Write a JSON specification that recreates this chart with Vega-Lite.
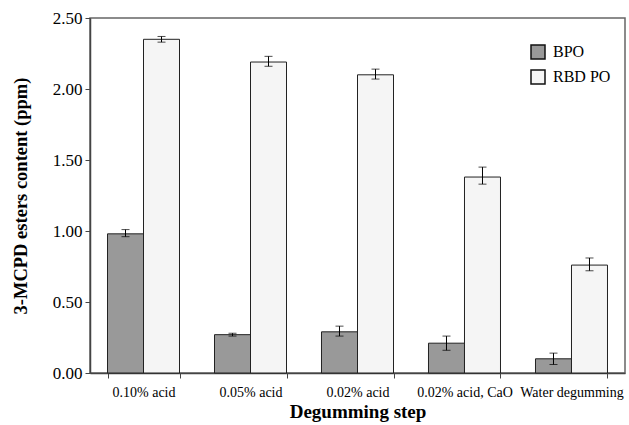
{
  "$schema": "https://vega.github.io/schema/vega-lite/v6.json",
  "width": 535,
  "height": 355,
  "autosize": "none",
  "padding": {"left": 90, "top": 18, "right": 4, "bottom": 52},
  "background": "white",
  "config": {
    "view": {"stroke": "#666666", "strokeWidth": 1.5},
    "font": "Liberation Serif, Times New Roman, serif"
  },
  "data": {
    "values": [
      {"step": "0.10% acid", "oil": "BPO", "value": 0.98, "lo": 0.96, "hi": 1.01},
      {"step": "0.10% acid", "oil": "RBD PO", "value": 2.35, "lo": 2.33, "hi": 2.37},
      {"step": "0.05% acid", "oil": "BPO", "value": 0.27, "lo": 0.26, "hi": 0.28},
      {"step": "0.05% acid", "oil": "RBD PO", "value": 2.19, "lo": 2.16, "hi": 2.23},
      {"step": "0.02% acid", "oil": "BPO", "value": 0.29, "lo": 0.26, "hi": 0.33},
      {"step": "0.02% acid", "oil": "RBD PO", "value": 2.10, "lo": 2.07, "hi": 2.14},
      {"step": "0.02% acid, CaO", "oil": "BPO", "value": 0.21, "lo": 0.16, "hi": 0.26},
      {"step": "0.02% acid, CaO", "oil": "RBD PO", "value": 1.38, "lo": 1.33, "hi": 1.45},
      {"step": "Water degumming", "oil": "BPO", "value": 0.10, "lo": 0.06, "hi": 0.14},
      {"step": "Water degumming", "oil": "RBD PO", "value": 0.76, "lo": 0.72, "hi": 0.81}
    ]
  },
  "encoding": {
    "x": {
      "field": "step",
      "type": "nominal",
      "sort": null,
      "scale": {"paddingInner": 0.327, "paddingOuter": 0.1636},
      "axis": {
        "title": "Degumming step",
        "titleFont": "Liberation Serif, Times New Roman, serif",
        "titleFontSize": 19,
        "titleFontWeight": "bold",
        "titleColor": "black",
        "titlePadding": 3,
        "labelAngle": 0,
        "labelFont": "Liberation Serif, Times New Roman, serif",
        "labelFontSize": 14,
        "labelColor": "black",
        "labelPadding": 7,
        "tickBand": "extent",
        "tickSize": 5,
        "tickColor": "#444444",
        "domainColor": "#444444",
        "domainWidth": 1.5
      }
    },
    "xOffset": {
      "field": "oil",
      "type": "nominal",
      "sort": ["BPO", "RBD PO"],
      "scale": {"paddingInner": 0, "paddingOuter": 0}
    }
  },
  "layer": [
    {
      "mark": {"type": "bar", "stroke": "#222222", "strokeWidth": 1},
      "encoding": {
        "y": {
          "field": "value",
          "type": "quantitative",
          "scale": {"domain": [0, 2.5], "nice": false},
          "axis": {
            "title": "3-MCPD esters content (ppm)",
            "titleFont": "Liberation Serif, Times New Roman, serif",
            "titleFontSize": 18.5,
            "titleFontWeight": "bold",
            "titleColor": "black",
            "titlePadding": 22,
            "values": [0, 0.5, 1, 1.5, 2, 2.5],
            "format": ".2f",
            "grid": false,
            "labelFont": "Liberation Serif, Times New Roman, serif",
            "labelFontSize": 17,
            "labelColor": "black",
            "labelPadding": 3,
            "tickSize": 5,
            "tickColor": "#444444",
            "domainColor": "#444444",
            "domainWidth": 1.5
          }
        },
        "color": {
          "field": "oil",
          "type": "nominal",
          "scale": {"domain": ["BPO", "RBD PO"], "range": ["#999999", "#f5f5f5"]},
          "legend": {
            "title": null,
            "orient": "none",
            "legendX": 440,
            "legendY": 26,
            "symbolType": "square",
            "symbolSize": 196,
            "symbolStrokeColor": "#111111",
            "symbolStrokeWidth": 1.5,
            "symbolOpacity": 1,
            "labelFont": "Liberation Serif, Times New Roman, serif",
            "labelFontSize": 16,
            "labelColor": "black",
            "rowPadding": 5,
            "labelOffset": 7
          }
        }
      }
    },
    {
      "mark": {"type": "rule", "color": "black", "strokeWidth": 1},
      "encoding": {
        "y": {"field": "lo", "type": "quantitative"},
        "y2": {"field": "hi"}
      }
    },
    {
      "mark": {"type": "tick", "color": "black", "size": 8, "thickness": 1},
      "encoding": {
        "y": {"field": "lo", "type": "quantitative"}
      }
    },
    {
      "mark": {"type": "tick", "color": "black", "size": 8, "thickness": 1},
      "encoding": {
        "y": {"field": "hi", "type": "quantitative"}
      }
    }
  ]
}
